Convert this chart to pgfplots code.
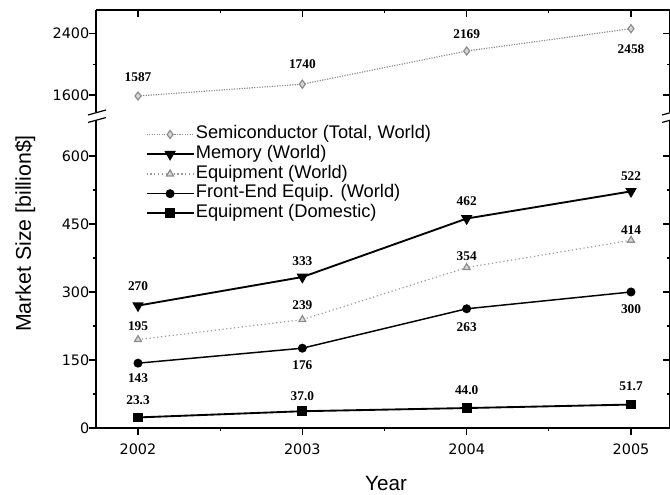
\documentclass[border=0pt]{standalone}
\usepackage{fontspec}
\setmainfont{Liberation Sans}
\newfontfamily\seriffont{Liberation Serif}
\newfontfamily\tickfont{DejaVu Sans}
\usepackage{pgfplots}
\pgfplotsset{compat=1.18}
\tikzset{lbl/.style={font=\seriffont\bfseries\fontsize{10}{12}\selectfont}}
\begin{document}
\begin{tikzpicture}
\path[use as bounding box] (0,0) rectangle (502.5pt,371.25pt);
\pgfplotsset{
  common/.style={
    scale only axis, width=430.5pt, xmin=2001.7444, xmax=2005.2373,
    axis line style={-, line width=0.9pt},
    tick style={line width=0.8pt, black},
    tick align=outside, major tick length=5.5pt, minor tick length=2.5pt,
    /pgf/number format/assume math mode=true,
    /pgf/number format/1000 sep={},
    tick label style={font=\tickfont\fontsize{10.8}{12}\selectfont},
    yticklabel style={anchor=east, xshift=4pt},
    xticklabel style={yshift=-3pt},
    clip=false,
  },
  semi/.style={color=black!45, densely dotted, line width=0.9pt, mark=diamond*, mark size=3pt, mark options={solid, fill=black!15, draw=black!45}},
  mem/.style={black, line width=1.4pt, mark=triangle*, mark size=3.6pt, mark options={solid, rotate=180}},
  equ/.style={color=black!40, dotted, line width=0.9pt, mark=triangle*, mark size=3pt, mark options={solid, fill=black!15, draw=black!45}},
  fe/.style={black, line width=1.1pt, mark=*, mark size=2.8pt},
  dom/.style={black, line width=1.4pt, mark=square*, mark size=3pt},
}
% ---------- lower axis ----------
\begin{axis}[common, at={(72pt,50.25pt)}, anchor=south west, height=231.2pt,
  ymin=0, ymax=680,
  axis x line*=bottom, axis y line*=box, ytick pos=left,
  xtick={2002,2003,2004,2005}, xticklabels={2002,2003,2004,2005},
  minor xtick={2002.5,2003.5,2004.5},
  ytick={0,150,300,450,600}, minor ytick={75,225,375,525},
  legend cell align=left,
  legend style={at={(0.086,0.985)}, anchor=north west, draw=none, fill=none,
    inner sep=0pt, row sep=0pt,
    font=\fontsize{13.7}{15}\selectfont,
    nodes={inner sep=1pt, text height=9.6pt, text depth=3.2pt}},
  legend image code/.code={\draw[mark repeat=2,mark phase=2] plot coordinates {(0cm,0cm) (0.62cm,0cm) (1.24cm,0cm)};},
]
\addlegendimage{semi}
\addlegendentry{Semiconductor (Total, World)}
\addplot[mem] coordinates {(2002,270) (2003,333) (2004,462) (2005,522)};
\addlegendentry{Memory (World)}
\addplot[equ] coordinates {(2002,195) (2003,239) (2004,354) (2005,414)};
\addlegendentry{Equipment (World)}
\addplot[fe] coordinates {(2002,143) (2003,176) (2004,263) (2005,300)};
\addlegendentry{Front-End Equip. (World)}
\addplot[dom] coordinates {(2002,23.3) (2003,37.0) (2004,44.0) (2005,51.7)};
\addlegendentry{Equipment (Domestic)}
% data labels
\node[lbl, yshift=14.25pt] at (axis cs:2002,270) {270};
\node[lbl, yshift=12pt]    at (axis cs:2003,333) {333};
\node[lbl, yshift=12.75pt] at (axis cs:2004,462) {462};
\node[lbl, yshift=11.25pt] at (axis cs:2005,522) {522};
\node[lbl, yshift=9.75pt]  at (axis cs:2002,195) {195};
\node[lbl, yshift=10.5pt]  at (axis cs:2003,239) {239};
\node[lbl, yshift=8.25pt]  at (axis cs:2004,354) {354};
\node[lbl, yshift=7.5pt]   at (axis cs:2005,414) {414};
\node[lbl, yshift=-10.9pt] at (axis cs:2002,143) {143};
\node[lbl, yshift=-12.4pt] at (axis cs:2003,176) {176};
\node[lbl, yshift=-13.5pt] at (axis cs:2004,263) {263};
\node[lbl, yshift=-12.75pt] at (axis cs:2005,300) {300};
\node[lbl, yshift=13.1pt]  at (axis cs:2002,23.3) {23.3};
\node[lbl, yshift=11.25pt] at (axis cs:2003,37.0) {37.0};
\node[lbl, yshift=13.5pt]  at (axis cs:2004,44.0) {44.0};
\node[lbl, yshift=13.5pt]  at (axis cs:2005,51.7) {51.7};
% mirrored right ticks
\draw[line width=0.8pt] (rel axis cs:1,0.22059) -- ([xshift=-5.5pt]rel axis cs:1,0.22059);
\draw[line width=0.8pt] (rel axis cs:1,0.44118) -- ([xshift=-5.5pt]rel axis cs:1,0.44118);
\draw[line width=0.8pt] (rel axis cs:1,0.66176) -- ([xshift=-5.5pt]rel axis cs:1,0.66176);
\draw[line width=0.8pt] (rel axis cs:1,0.88235) -- ([xshift=-5.5pt]rel axis cs:1,0.88235);
\draw[line width=0.8pt] (rel axis cs:1,0.11029) -- ([xshift=-2.5pt]rel axis cs:1,0.11029);
\draw[line width=0.8pt] (rel axis cs:1,0.33088) -- ([xshift=-2.5pt]rel axis cs:1,0.33088);
\draw[line width=0.8pt] (rel axis cs:1,0.55147) -- ([xshift=-2.5pt]rel axis cs:1,0.55147);
\draw[line width=0.8pt] (rel axis cs:1,0.77206) -- ([xshift=-2.5pt]rel axis cs:1,0.77206);
\end{axis}
% ---------- upper axis ----------
\begin{axis}[common, at={(72pt,287.25pt)}, anchor=south west, height=76.5pt,
  ymin=1380, ymax=2700,
  axis x line*=top, axis y line*=box, ytick pos=left,
  xtick=\empty,
  ytick={1600,2400}, minor ytick={2000},
]
\addplot[semi] coordinates {(2002,1587) (2003,1740) (2004,2169) (2005,2458)};
\node[lbl, yshift=14.25pt] at (axis cs:2002,1587) {1587};
\node[lbl, yshift=15pt]    at (axis cs:2003,1740) {1740};
\node[lbl, yshift=12.75pt] at (axis cs:2004,2169) {2169};
\node[lbl, yshift=-15pt]   at (axis cs:2005,2458) {2458};
% top ticks (pointing down)
\draw[line width=0.8pt] (rel axis cs:0.07317,1) -- ([yshift=-5.5pt]rel axis cs:0.07317,1);
\draw[line width=0.8pt] (rel axis cs:0.35946,1) -- ([yshift=-5.5pt]rel axis cs:0.35946,1);
\draw[line width=0.8pt] (rel axis cs:0.64576,1) -- ([yshift=-5.5pt]rel axis cs:0.64576,1);
\draw[line width=0.8pt] (rel axis cs:0.93206,1) -- ([yshift=-5.5pt]rel axis cs:0.93206,1);
\draw[line width=0.8pt] (rel axis cs:0.21632,1) -- ([yshift=-2.5pt]rel axis cs:0.21632,1);
\draw[line width=0.8pt] (rel axis cs:0.50261,1) -- ([yshift=-2.5pt]rel axis cs:0.50261,1);
\draw[line width=0.8pt] (rel axis cs:0.78891,1) -- ([yshift=-2.5pt]rel axis cs:0.78891,1);
% mirrored right ticks
\draw[line width=0.8pt] (rel axis cs:1,0.16667) -- ([xshift=-5.5pt]rel axis cs:1,0.16667);
\draw[line width=0.8pt] (rel axis cs:1,0.77273) -- ([xshift=-5.5pt]rel axis cs:1,0.77273);
\draw[line width=0.8pt] (rel axis cs:1,0.46970) -- ([xshift=-2.5pt]rel axis cs:1,0.46970);
\end{axis}
% ---------- axis break marks ----------
\begin{scope}[line width=0.9pt]
  \draw (66pt,285pt) -- (79.5pt,288.75pt);
  \draw (66pt,279.4pt) -- (79.5pt,283.1pt);
  \draw (496.5pt,285pt) -- (510pt,288.75pt);
  \draw (496.5pt,279.4pt) -- (510pt,283.1pt);
\end{scope}
% ---------- axis titles ----------
\node[rotate=90, anchor=base, font=\fontsize{16}{18}\selectfont] at (23.25pt,196.1pt) {Market Size [billion\$]};
\node[anchor=base, font=\fontsize{15.5}{18}\selectfont] at (289.5pt,3pt) {Year};
\end{tikzpicture}
\end{document}
